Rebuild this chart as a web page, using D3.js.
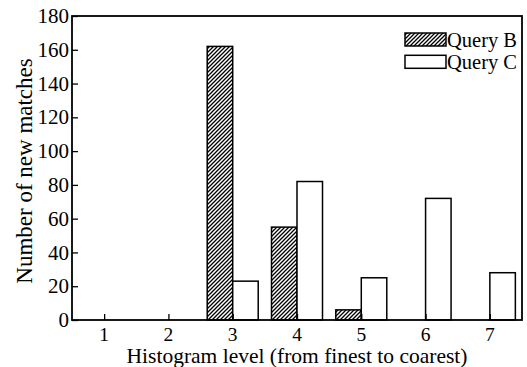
<!DOCTYPE html>
<html><head><meta charset="utf-8">
<script src="https://cdn.jsdelivr.net/npm/d3@7"></script>
<style>body{margin:0;background:#fff}svg{display:block}</style>
</head><body>
<svg id="c" width="527" height="367"></svg>
<script>
const levels = [1, 2, 3, 4, 5, 6, 7];
const queryB = [0, 0, 162, 55, 6, 0, 0];
const queryC = [0, 0, 23, 82, 25, 72, 28];
const yTicks = [0, 20, 40, 60, 80, 100, 120, 140, 160, 180];
const seriesNames = ["Query B", "Query C"];

const svg = d3.select("#c");
const m = {l: 72, r: 522, t: 16, b: 320};
const font = "'Liberation Serif', 'Times New Roman', serif";

const x = d3.scaleLinear().domain([0.5, 7.5]).range([m.l, m.r]);
const y = d3.scaleLinear().domain([0, 180]).range([m.b, m.t]);
const bw = 25.5;

const defs = svg.append("defs");
const pat = defs.append("pattern").attr("id", "hatch").attr("patternUnits", "userSpaceOnUse")
  .attr("width", 4).attr("height", 4);
pat.append("rect").attr("width", 4).attr("height", 4).attr("fill", "#fff");
pat.append("path").attr("d", "M-1,1 l2,-2 M0,4 l4,-4 M3,5 l2,-2")
  .attr("stroke", "#000").attr("stroke-width", 1.3);

// bars
const g = svg.append("g");
levels.forEach((lv, i) => {
  if (queryB[i] > 0) g.append("rect").attr("x", x(lv) - bw).attr("width", bw)
    .attr("y", y(queryB[i])).attr("height", y(0) - y(queryB[i]))
    .attr("fill", "url(#hatch)").attr("stroke", "#000").attr("stroke-width", 1.5);
  if (queryC[i] > 0) g.append("rect").attr("x", x(lv)).attr("width", bw)
    .attr("y", y(queryC[i])).attr("height", y(0) - y(queryC[i]))
    .attr("fill", "#fff").attr("stroke", "#000").attr("stroke-width", 1.5);
});

// axes
const yAxis = svg.append("g").attr("transform", `translate(${m.l},0)`)
  .call(d3.axisRight(y).tickValues(yTicks).tickSize(6).tickFormat(""));
yAxis.select(".domain").remove();
yAxis.selectAll("line").attr("stroke", "#000").attr("stroke-width", 1.3);
svg.append("g").selectAll("text").data(yTicks).join("text")
  .attr("x", m.l - 3).attr("y", d => y(d)).attr("dy", "0.34em")
  .attr("text-anchor", "end").attr("font-family", font).attr("font-size", 21)
  .text(d => d);

const xAxis = svg.append("g").attr("transform", `translate(0,${m.b})`)
  .call(d3.axisTop(x).tickValues(levels).tickSize(6).tickFormat(""));
xAxis.select(".domain").remove();
xAxis.selectAll("line").attr("stroke", "#000").attr("stroke-width", 1.3);
svg.append("g").selectAll("text").data(levels).join("text")
  .attr("x", d => x(d)).attr("y", 340.5).attr("text-anchor", "middle")
  .attr("font-family", font).attr("font-size", 19.5).text(d => d);

// frame
svg.append("rect").attr("x", m.l).attr("y", m.t).attr("width", m.r - m.l).attr("height", m.b - m.t)
  .attr("fill", "none").attr("stroke", "#000").attr("stroke-width", 1.8);

// titles
svg.append("text").attr("x", 297).attr("y", 363).attr("text-anchor", "middle")
  .attr("font-family", font).attr("font-size", 21.5).text("Histogram level (from finest to coarest)");
svg.append("text").attr("transform", "translate(32,171) rotate(-90)").attr("text-anchor", "middle")
  .attr("font-family", font).attr("font-size", 23).text("Number of new matches");

// legend
const lg = svg.append("g");
seriesNames.forEach((n, i) => {
  lg.append("rect").attr("x", 405).attr("y", 33 + i * 22.3).attr("width", 41).attr("height", 13)
    .attr("fill", i === 0 ? "url(#hatch)" : "#fff").attr("stroke", "#000").attr("stroke-width", 1.5);
  lg.append("text").attr("x", 447).attr("y", 46.5 + i * 22.3).attr("font-family", font)
    .attr("font-size", 20.5).text(n);
});
</script>
</body></html>
